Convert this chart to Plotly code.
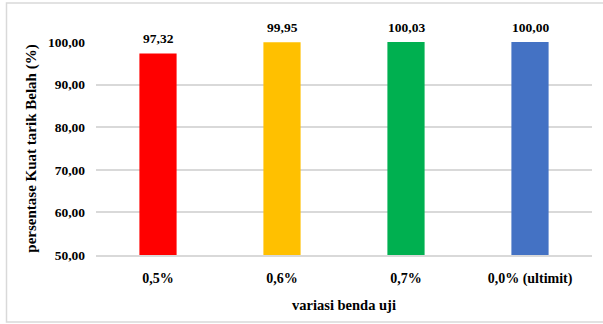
import plotly.graph_objects as go

categories = ["0,5%", "0,6%", "0,7%", "0,0% (ultimit)"]
values = [97.32, 99.95, 100.03, 100.00]
value_labels = ["97,32", "99,95", "100,03", "100,00"]
colors = ["#FF0000", "#FFC000", "#00B050", "#4472C4"]
y_ticks = [50, 60, 70, 80, 90, 100]
y_tick_labels = ["50,00", "60,00", "70,00", "80,00", "90,00", "100,00"]

W, H = 603, 324
ML, MR, MT, MB = 96, 11, 42, 69
font = dict(family="Liberation Serif", color="#000000")

fig = go.Figure()
fig.add_trace(
    go.Bar(
        x=categories,
        y=values,
        marker=dict(color=colors, line=dict(width=0)),
        width=0.3,
        hoverinfo="skip",
    )
)

# data labels above each bar
for cat, val, lab in zip(categories, values, value_labels):
    fig.add_annotation(
        x=cat, y=min(val, 100), xref="x", yref="y",
        text=f"<b>{lab}</b>", showarrow=False,
        yanchor="bottom", yshift=5,
        font=dict(size=13.5, **font),
    )

pw, ph = W - ML - MR, H - MT - MB
# light grey frame around the whole chart
fig.add_shape(
    type="rect", xref="paper", yref="paper",
    x0=(6.5 - ML) / pw, x1=(W + 5 - ML) / pw,
    y0=-(322 - (H - MB)) / ph, y1=1 + (MT - 3) / ph,
    line=dict(color="#D9D9D9", width=1.5), layer="below",
)

fig.update_layout(
    width=W, height=H,
    margin=dict(l=ML, r=MR, t=MT, b=MB, autoexpand=False),
    paper_bgcolor="white", plot_bgcolor="white",
    showlegend=False,
    font=dict(size=13, **font),
    xaxis=dict(
        tickvals=categories,
        ticktext=[f"<b>{c}</b>" for c in categories],
        tickfont=dict(size=14, **font),
        showline=True, linecolor="#D9D9D9", linewidth=1.5,
        ticks="", showgrid=False, automargin=False,
        ticklabelstandoff=9,
        title=dict(text="<b>variasi benda uji</b>", font=dict(size=14.5, **font), standoff=14),
    ),
    yaxis=dict(
        range=[50, 100],
        tickvals=y_ticks,
        ticktext=[f"<b>{t}</b>" for t in y_tick_labels],
        tickfont=dict(size=13.5, **font),
        showgrid=True, gridcolor="#D9D9D9", gridwidth=1.5,
        zeroline=False, ticks="", ticklabelstandoff=10, automargin=False,
        title=dict(text="<b>persentase Kuat tarik Belah (%)</b>", font=dict(size=15, **font), standoff=7),
    ),
)

fig.write_html("out.html")
